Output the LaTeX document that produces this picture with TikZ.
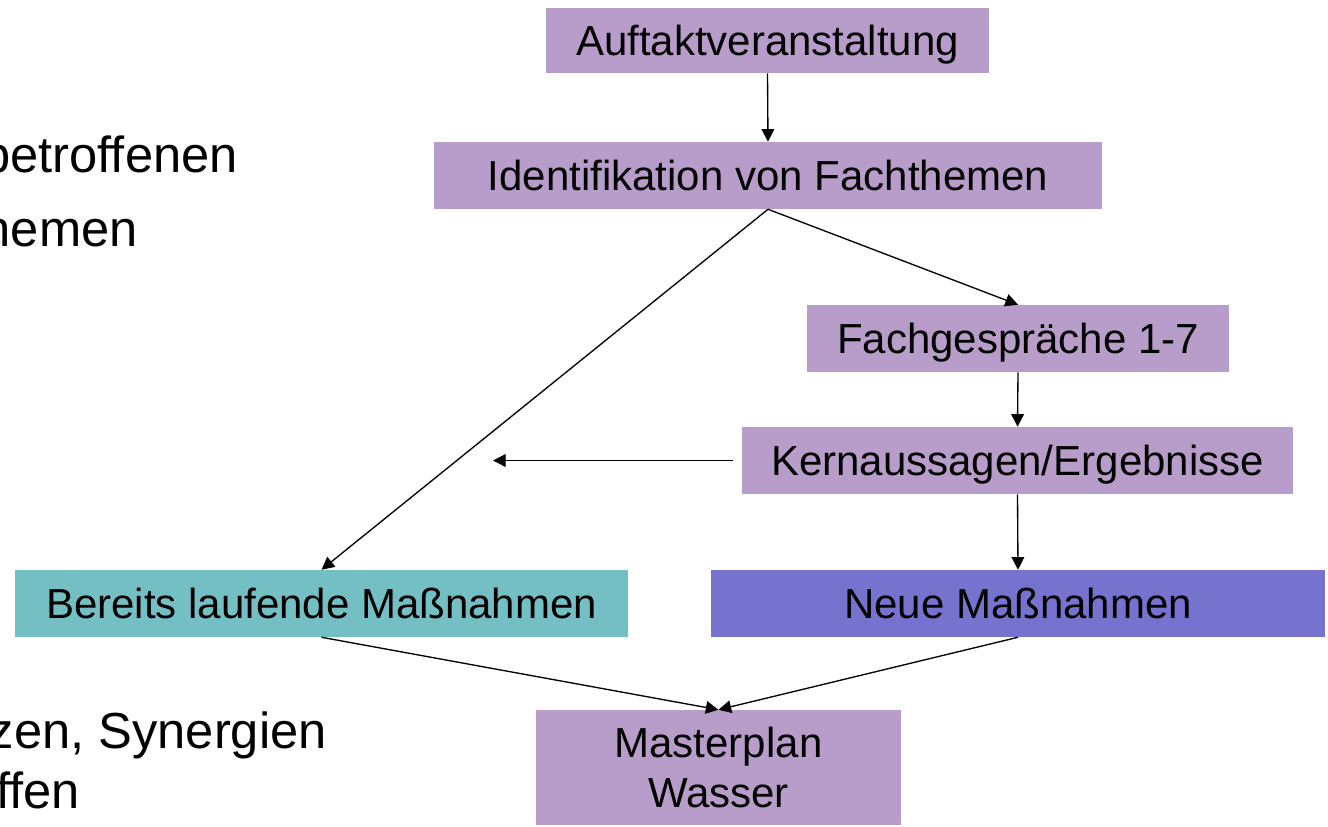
\documentclass[tikz,border=0pt]{standalone}
\usepackage{fontspec}
\setmainfont{Liberation Sans}
\usetikzlibrary{arrows.meta}
\definecolor{boxpurple}{HTML}{B89CC9}
\definecolor{boxteal}{HTML}{73BFC4}
\definecolor{boxblue}{HTML}{7673CF}
\begin{document}
\begin{tikzpicture}[x=0.75pt,y=-0.75pt,
  flowbox/.style={inner sep=0pt, fill=boxpurple, font=\fontsize{31.5}{37.5}\selectfont,
    text height=22.6pt, text depth=0pt},
  sidetext/.style={inner sep=0pt, anchor=base east, font=\fontsize{38}{45}\selectfont},
  conn/.style={draw=black, line width=1pt, -{Triangle[length=9.5pt,width=9.5pt]}}]
\useasboundingbox (0,0) rectangle (1328,826);
% side text fragments
\node[sidetext] (s1) at (238,172) {betroffenen};
\node[sidetext] (s2) at (138,246) {hemen};
\node[sidetext] (s3) at (327,748) {zen, Synergien};
\node[sidetext] (s4) at (80,808) {ffen};
% boxes
\node[flowbox, minimum width=443*0.75pt, minimum height=65*0.75pt] (auf) at (767.5,40.5) {Auftaktveranstaltung};
\node[flowbox, minimum width=668*0.75pt, minimum height=67*0.75pt] (ide) at (768,175.5) {Identifikation von Fachthemen};
\node[flowbox, minimum width=422*0.75pt, minimum height=67*0.75pt] (fach) at (1018,338.5) {Fachgespräche 1-7};
\node[flowbox, minimum width=551*0.75pt, minimum height=67*0.75pt] (kern) at (1017.5,460.5) {Kernaussagen/Ergebnisse};
\node[flowbox, fill=boxteal, minimum width=613*0.75pt, minimum height=67*0.75pt] (bereits) at (321.5,603.5) {Bereits laufende Maßnahmen};
\node[flowbox, fill=boxblue, minimum width=614*0.75pt, minimum height=67*0.75pt] (neue) at (1018,603.5) {Neue Maßnahmen};
\node[inner sep=0pt, fill=boxpurple, font=\fontsize{31.5}{37.5}\selectfont, align=center,
  minimum width=365*0.75pt, minimum height=115*0.75pt] (master) at (718.5,767.5) {Masterplan\\Wasser};
% connectors
\coordinate (kend) at (493,460.5);
\draw[conn] (auf.south) -- (ide.north);
\draw[conn] (ide.south) -- (fach.north);
\draw[conn] (ide.south) -- (bereits.north);
\draw[conn] (fach.south) -- (kern.north);
\draw[conn, shorten <=6.5pt] (kern.west) -- (kend);
\draw[conn] (kern.south) -- (neue.north);
\draw[conn] (bereits.south) -- (master.north);
\draw[conn] (neue.south) -- (master.north);
\end{tikzpicture}
\end{document}
